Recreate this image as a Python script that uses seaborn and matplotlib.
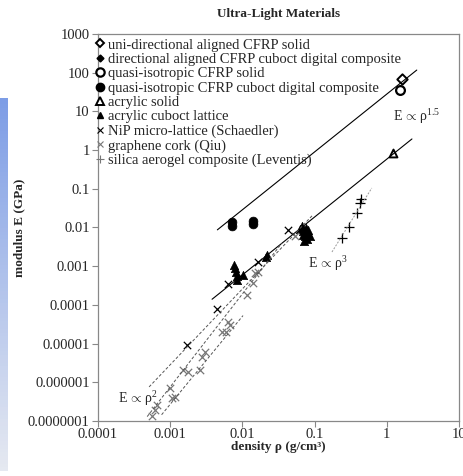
import numpy as np
import pandas as pd
import matplotlib
matplotlib.use("Agg")
import matplotlib.pyplot as plt
import seaborn as sns
from matplotlib.lines import Line2D

# 데이터
ud_solid_x = [1.6]
ud_solid_y = [70]
qi_solid_x = [1.5]
qi_solid_y = [36]
qi_cuboct_x = [0.0072, 0.0072, 0.014, 0.014]
qi_cuboct_y = [0.0112, 0.0138, 0.0122, 0.0145]
acr_solid_x = [1.2]
acr_solid_y = [0.85]
acr_lat_x = [0.0077, 0.0079, 0.0081, 0.0083, 0.0085, 0.0102, 0.021, 0.022,
             0.062, 0.066, 0.068, 0.070, 0.072, 0.073, 0.076, 0.078, 0.080, 0.082, 0.085]
acr_lat_y = [0.0011, 0.0009, 0.0007, 0.00055, 0.00045, 0.00058, 0.0017, 0.0019,
             0.009, 0.011, 0.0065, 0.008, 0.0045, 0.006, 0.0095, 0.005, 0.007, 0.0085, 0.006]
nip_x = [0.0017, 0.0045, 0.0063, 0.0166, 0.043]
nip_y = [9.1e-6, 8e-5, 3.4e-4, 0.0013, 0.0087]
cork_x = [0.00056, 0.00062, 0.00066, 0.00099, 0.00106, 0.00117, 0.0015, 0.00177,
          0.0026, 0.00275, 0.0030, 0.0052, 0.0059, 0.0063, 0.0067,
          0.0116, 0.014, 0.0149, 0.0165, 0.054]
cork_y = [1.35e-7, 1.9e-7, 2.6e-7, 7.1e-7, 3.9e-7, 4.2e-7, 2.1e-6, 1.9e-6,
          2.1e-6, 4.5e-6, 6e-6, 2e-5, 2e-5, 3.6e-5, 3.1e-5,
          1.8e-4, 3.7e-4, 6.6e-4, 7e-4, 0.006]
aero_x = [0.24, 0.30, 0.39, 0.43, 0.44]
aero_y = [0.0054, 0.0102, 0.024, 0.042, 0.055]

# 추세선 (양 끝점)
solid_lines_x = [[0.0045, 2.6], [0.0038, 2.23]]
solid_lines_y = [[0.0087, 117], [0.00014, 1.94]]
dash_lines_x = [[0.00051, 0.092], [0.00048, 0.035], [0.00076, 0.0102]]
dash_lines_y = [[7.6e-7, 0.0200], [1.3e-7, 0.0039], [1.45e-7, 5.3e-5]]
cube_line_x = [0.174, 0.62]
cube_line_y = [0.00233, 0.105]

xticks = [0.0001, 0.001, 0.01, 0.1, 1, 10]
xlabels = ["0.0001", "0.001", "0.01", "0.1", "1", "10"]
yticks = [1e-7, 1e-6, 1e-5, 1e-4, 1e-3, 1e-2, 0.1, 1, 10, 100, 1000]
ylabels = ["0.0000001", "0.000001", "0.00001", "0.0001", "0.001", "0.01",
           "0.1", "1", "10", "100", "1000"]

sns.set_style("white")
plt.rcParams['font.family'] = ['Liberation Serif', 'DejaVu Serif']
plt.rcParams['mathtext.fontset'] = 'custom'
plt.rcParams['mathtext.rm'] = 'Liberation Serif'
plt.rcParams['mathtext.it'] = 'Liberation Serif:italic'

fig = plt.figure(figsize=(4.63, 4.76), dpi=100)

# 왼쪽 파란 띠 (슬라이드 배경)
bg = fig.add_axes([0, 0.01, 8 / 463, 0.785])
grad = np.linspace(0, 1, 100).reshape(-1, 1)
bg.imshow(grad, aspect='auto', cmap=sns.light_palette("#7d9de6", as_cmap=True, reverse=True),
          vmin=0, vmax=1.1)
bg.axis('off')

ax = fig.add_axes([98 / 463, 1 - 421 / 476, 361 / 463, 387 / 476])
ax.set_xscale('log')
ax.set_yscale('log')

# 추세선
for lx, ly in zip(solid_lines_x, solid_lines_y):
    sns.lineplot(x=lx, y=ly, ax=ax, color='black', lw=0.8)
for lx, ly in zip(dash_lines_x, dash_lines_y):
    sns.lineplot(x=lx, y=ly, ax=ax, color='#555555', lw=0.7, linestyle=(0, (3, 2)))
sns.lineplot(x=cube_line_x, y=cube_line_y, ax=ax, color='#999999', lw=0.7, linestyle=(0, (2, 1.5)))

# 데이터 점
sns.scatterplot(x=ud_solid_x, y=ud_solid_y, ax=ax, marker='D', s=28,
                facecolor='white', edgecolor='black', linewidth=1.4)
sns.scatterplot(x=qi_solid_x, y=qi_solid_y, ax=ax, marker='o', s=40,
                facecolor='white', edgecolor='black', linewidth=1.6)
sns.scatterplot(x=qi_cuboct_x, y=qi_cuboct_y, ax=ax, marker='o', s=40,
                color='black', edgecolor='black')
sns.scatterplot(x=acr_solid_x, y=acr_solid_y, ax=ax, marker='^', s=32,
                facecolor='white', edgecolor='black', linewidth=1.4)
sns.scatterplot(x=acr_lat_x, y=acr_lat_y, ax=ax, marker='^', s=36,
                color='black', edgecolor='black')
sns.scatterplot(x=cork_x, y=cork_y, ax=ax, marker='x', s=28, color='#777777', linewidth=0.9)
sns.scatterplot(x=nip_x, y=nip_y, ax=ax, marker='x', s=28, color='black', linewidth=0.9)
sns.scatterplot(x=aero_x, y=aero_y, ax=ax, marker='+', s=50, color='black', linewidth=0.9)

ax.set_xlim(0.0001, 10)
ax.set_ylim(1e-7, 1000)
ax.set_xticks(xticks)
ax.set_xticklabels(xlabels)
ax.set_yticks(yticks)
ax.set_yticklabels(ylabels)
ax.minorticks_off()
ax.tick_params(axis='both', which='major', direction='out', length=4, width=0.8,
               color='#888888', labelsize=10.5, pad=2, left=True, bottom=True)
ax.tick_params(axis='x', pad=1)
for sp in ax.spines.values():
    sp.set_color('#888888')
    sp.set_linewidth(0.9)

ax.set_xlabel("density ρ (g/cm³)", fontsize=9.5, fontweight='bold', labelpad=0)
ax.set_ylabel("modulus E (GPa)", fontsize=9.5, fontweight='bold', labelpad=2)
fig.text((98 + 459) / 2 / 463, 1 - 14 / 476, "Ultra-Light Materials", ha='center', va='center',
         fontsize=9.5, fontweight='bold')

ax.text(1.22, 7.2, r"E$\,\propto\,$ρ$^{1.5}$", fontsize=10, va='center')
ax.text(0.081, 0.0012, r"E$\,\propto\,$ρ$^{3}$", fontsize=10, va='center')
ax.text(0.00019, 3.9e-7, r"E$\,\propto\,$ρ$^{2}$", fontsize=10, va='center')

# 범례
handles = [
    Line2D([], [], ls='', marker='D', ms=4.5, mfc='white', mec='black', mew=1.4),
    Line2D([], [], ls='', marker='D', ms=3.5, mfc='black', mec='black'),
    Line2D([], [], ls='', marker='o', ms=6, mfc='white', mec='black', mew=1.6),
    Line2D([], [], ls='', marker='o', ms=6, mfc='black', mec='black'),
    Line2D([], [], ls='', marker='^', ms=5.5, mfc='white', mec='black', mew=1.4),
    Line2D([], [], ls='', marker='^', ms=5, mfc='black', mec='black'),
    Line2D([], [], ls='', marker='x', ms=4.5, color='black', mew=0.8),
    Line2D([], [], ls='', marker='x', ms=4.5, color='#777777', mew=0.8),
    Line2D([], [], ls='', marker='+', ms=6, color='#777777', mew=0.8),
]
labels = [
    "uni-directional aligned CFRP solid",
    "directional aligned CFRP cuboct digital composite",
    "quasi-isotropic CFRP solid",
    "quasi-isotropic CFRP cuboct digital composite",
    "acrylic solid",
    "acrylic cuboct lattice",
    "NiP micro-lattice (Schaedler)",
    "graphene cork (Qiu)",
    "silica aerogel composite (Leventis)",
]
ax.legend(handles, labels, loc='upper left', bbox_to_anchor=(-0.012, 1.0), frameon=False,
          fontsize=10.5, handlelength=0.3, handletextpad=0.35, labelspacing=0.08,
          borderaxespad=0.05, borderpad=0.25)

fig.savefig("out.png", dpi=100)
